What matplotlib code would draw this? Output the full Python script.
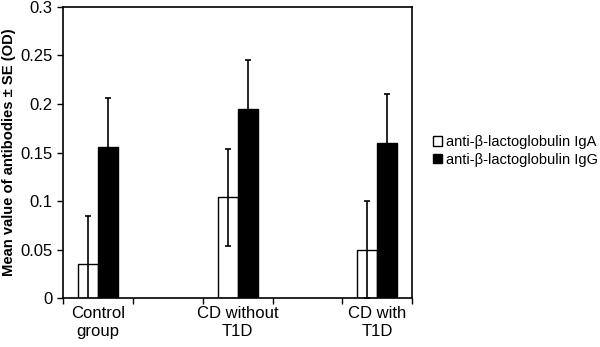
import numpy as np
import matplotlib.pyplot as plt
from matplotlib.patches import Patch

plt.rcParams['font.family'] = ['Liberation Sans', 'DejaVu Sans']

# five slots on the axis, two of them left empty
groups = ["Control\ngroup", "", "CD without\nT1D", "", "CD with\nT1D"]
iga = [0.035, np.nan, 0.104, np.nan, 0.05]
iga_se = [0.05, np.nan, 0.05, np.nan, 0.05]
igg = [0.156, np.nan, 0.195, np.nan, 0.16]
igg_se = [0.05, np.nan, 0.05, np.nan, 0.05]
series_names = ["anti-\u03b2-lactoglobulin IgA", "anti-\u03b2-lactoglobulin IgG"]

fig = plt.figure(figsize=(6, 3.47), dpi=100)
ax = fig.add_axes([0.105, 0.141, 0.582, 0.839])

x = np.arange(len(groups))
w = 0.286
err_kw = dict(ecolor='black', elinewidth=1.2, capsize=2.5, capthick=1.2)
ax.bar(x - w/2, iga, w, yerr=iga_se, color='white', edgecolor='black',
       linewidth=1, error_kw=err_kw, zorder=2)
ax.bar(x + w/2, igg, w, yerr=igg_se, color='black', edgecolor='black',
       linewidth=1, error_kw=err_kw, zorder=2)

ax.set_xlim(-0.5, len(groups) - 0.5)
ax.set_ylim(0, 0.3)
ax.set_yticks(np.arange(0, 0.31, 0.05))
ax.set_yticklabels(['0', '0.05', '0.1', '0.15', '0.2', '0.25', '0.3'])

# ticks at the slot borders, labels at the slot centres
ax.set_xticks(np.arange(-0.5, len(groups), 1))
ax.set_xticklabels([])
ax.set_xticks(x, minor=True)
ax.set_xticklabels(groups, minor=True)
ax.tick_params(axis='x', which='minor', length=0, pad=6)
ax.tick_params(axis='both', which='major', direction='out', length=4, width=1)
ax.tick_params(axis='both', which='both', labelsize=12)

for s in ax.spines.values():
    s.set_linewidth(1.2)

ax.set_ylabel("Mean value of antibodies \u00b1 SE (OD)", fontsize=10.6,
              fontweight='bold', labelpad=3)

handles = [Patch(facecolor='white', edgecolor='black', label=series_names[0]),
           Patch(facecolor='black', edgecolor='black', label=series_names[1])]
fig.legend(handles=handles, loc='center left', bbox_to_anchor=(0.71, 0.565),
           frameon=False, fontsize=10.5, handlelength=0.6, handleheight=0.6,
           handletextpad=0.25, labelspacing=0.25, borderpad=0)

plt.savefig("out.png", dpi=100)
